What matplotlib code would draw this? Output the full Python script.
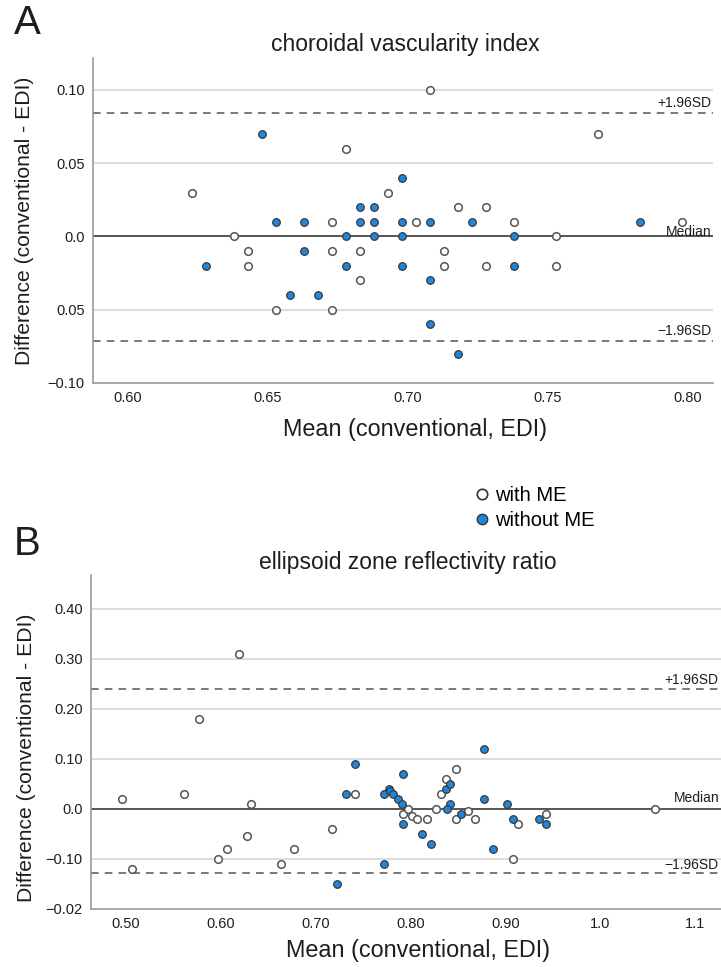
import matplotlib
matplotlib.use("Agg")
import matplotlib.pyplot as plt
from matplotlib.lines import Line2D

plt.rcParams['font.family'] = ['Liberation Sans', 'DejaVu Sans']

# ---------------- Panel A data: choroidal vascularity index ----------------
a_with_x = [0.623, 0.678, 0.693, 0.673, 0.703, 0.638, 0.643, 0.673, 0.683, 0.643,
            0.683, 0.653, 0.673, 0.708, 0.768, 0.718, 0.728, 0.738, 0.798, 0.753,
            0.713, 0.713, 0.728, 0.753]
a_with_y = [0.03, 0.06, 0.03, 0.01, 0.01, 0.0, -0.01, -0.01, -0.01, -0.02,
            -0.03, -0.05, -0.05, 0.10, 0.07, 0.02, 0.02, 0.01, 0.01, 0.0,
            -0.01, -0.02, -0.02, -0.02]
a_wo_x = [0.648, 0.698, 0.683, 0.688, 0.653, 0.663, 0.683, 0.688, 0.698, 0.678,
          0.688, 0.698, 0.663, 0.628, 0.678, 0.698, 0.658, 0.668, 0.708, 0.723,
          0.783, 0.738, 0.738, 0.708, 0.708, 0.718]
a_wo_y = [0.07, 0.04, 0.02, 0.02, 0.01, 0.01, 0.01, 0.01, 0.01, 0.0,
          0.0, 0.0, -0.01, -0.02, -0.02, -0.02, -0.04, -0.04, 0.01, 0.01,
          0.01, 0.0, -0.02, -0.03, -0.06, -0.08]
a_median, a_upper, a_lower = 0.0, 0.084, -0.071
a_xticks = [0.60, 0.65, 0.70, 0.75, 0.80]
a_xticklabels = ['0.60', '0.65', '0.70', '0.75', '0.80']
a_yticks = [-0.10, -0.05, 0.0, 0.05, 0.10]
a_yticklabels = ['\u22120.10', '0.05', '0.0', '0.05', '0.10']

# ---------------- Panel B data: ellipsoid zone reflectivity ratio ----------------
b_with_x = [0.496, 0.506, 0.561, 0.577, 0.597, 0.607, 0.619, 0.628, 0.632, 0.663,
            0.677, 0.717, 0.742, 0.792, 0.797, 0.802, 0.807, 0.817, 0.827, 0.832,
            0.837, 0.848, 0.848, 0.861, 0.868, 0.913, 0.908, 0.943, 1.058]
b_with_y = [0.02, -0.12, 0.03, 0.18, -0.10, -0.08, 0.31, -0.055, 0.01, -0.11,
            -0.08, -0.04, 0.03, -0.01, 0.0, -0.015, -0.02, -0.02, 0.0, 0.03,
            0.06, 0.08, -0.02, -0.005, -0.02, -0.03, -0.10, -0.01, 0.0]
b_wo_x = [0.722, 0.732, 0.742, 0.772, 0.772, 0.777, 0.778, 0.782, 0.787, 0.791,
          0.792, 0.792, 0.812, 0.822, 0.837, 0.842, 0.842, 0.839, 0.853, 0.877,
          0.877, 0.887, 0.902, 0.908, 0.936, 0.943]
b_wo_y = [-0.15, 0.03, 0.09, 0.03, -0.11, 0.04, 0.035, 0.03, 0.02, 0.01,
          0.07, -0.03, -0.05, -0.07, 0.04, 0.05, 0.01, 0.0, -0.01, 0.12,
          0.02, -0.08, 0.01, -0.02, -0.02, -0.03]
b_median, b_upper, b_lower = 0.0, 0.240, -0.129
b_xticks = [0.5, 0.6, 0.7, 0.8, 0.9, 1.0, 1.1]
b_xticklabels = ['0.50', '0.60', '0.70', '0.80', '0.90', '1.0', '1.1']
b_yticks = [-0.2, -0.1, 0.0, 0.1, 0.2, 0.3, 0.4]
b_yticklabels = ['\u22120.02', '\u22120.10', '0.0', '0.10', '0.20', '0.30', '0.40']

BLUE = '#1f86dc'
EDGE = '#3a3a3a'
OPEN_EDGE = '#555555'
GRID = '#d6d6d6'
TXT = '#1e1e1e'

W, H = 721, 967
fig = plt.figure(figsize=(W / 100, H / 100), dpi=100)


def px_axes(left, top, right, bottom):
    return fig.add_axes([left / W, 1 - bottom / H, (right - left) / W, (bottom - top) / H])


def style(ax, xlim, ylim, xticks, xtl, yticks, ytl, median, upper, lower, grid_vals):
    ax.set_xlim(*xlim)
    ax.set_ylim(*ylim)
    for s in ['top', 'right']:
        ax.spines[s].set_visible(False)
    for s in ['left', 'bottom']:
        ax.spines[s].set_color('#9a9a9a')
        ax.spines[s].set_linewidth(1.2)
    ax.set_xticks(xticks)
    ax.set_xticklabels(xtl, fontsize=10.5, color=TXT)
    ax.set_yticks(yticks)
    ax.set_yticklabels(ytl, fontsize=10.5, color=TXT)
    ax.tick_params(length=0, pad=6)
    for g in grid_vals:
        ax.axhline(g, color=GRID, lw=1.2, zorder=0)
    ax.axhline(median, color='#555555', lw=1.4, zorder=1)
    ax.axhline(upper, color='#555555', lw=1.1, ls=(0, (5, 4)), zorder=1)
    ax.axhline(lower, color='#555555', lw=1.1, ls=(0, (5, 4)), zorder=1)


def draw_points(ax, wx, wy, ox, oy):
    ax.scatter(wx, wy, s=30, facecolor='white', edgecolor=OPEN_EDGE, linewidth=1.1, zorder=3)
    ax.scatter(ox, oy, s=30, facecolor=BLUE, edgecolor=EDGE, linewidth=0.9, zorder=4)


# ---------- Panel A ----------
axA = px_axes(93, 58, 713, 383)
style(axA, (0.5877, 0.8091), (-0.10, 0.1218), a_xticks, a_xticklabels,
      a_yticks, a_yticklabels, a_median, a_upper, a_lower, [0.10, 0.05, -0.05])
draw_points(axA, a_with_x, a_with_y, a_wo_x, a_wo_y)
tA = axA.get_yaxis_transform()
axA.text(0.998, a_upper + 0.002, '+1.96SD', transform=tA, ha='right', va='bottom', fontsize=10, color=TXT)
axA.text(0.998, a_median - 0.0015, 'Median', transform=tA, ha='right', va='bottom', fontsize=10, color=TXT)
axA.text(0.998, a_lower + 0.002, '\u22121.96SD', transform=tA, ha='right', va='bottom', fontsize=10, color=TXT)

# ---------- Panel B ----------
axB = px_axes(91, 575, 721, 909)
style(axB, (0.4631, 1.1274), (-0.20, 0.467), b_xticks, b_xticklabels,
      b_yticks, b_yticklabels, b_median, b_upper, b_lower, [0.4, 0.3, 0.2, 0.1, -0.1])
draw_points(axB, b_with_x, b_with_y, b_wo_x, b_wo_y)
tB = axB.get_yaxis_transform()
axB.text(0.996, b_upper + 0.003, '+1.96SD', transform=tB, ha='right', va='bottom', fontsize=10, color=TXT)
axB.text(0.997, b_median + 0.008, 'Median', transform=tB, ha='right', va='bottom', fontsize=10, color=TXT)
axB.text(0.996, b_lower + 0.003, '\u22121.96SD', transform=tB, ha='right', va='bottom', fontsize=10, color=TXT)

# ---------- Titles, labels ----------
fig.text(27 / W, 1 - 23 / H, 'A', fontsize=29, ha='center', va='center', color=TXT)
fig.text(27 / W, 1 - 544 / H, 'B', fontsize=29, ha='center', va='center', color=TXT)
fig.text(405 / W, 1 - 44 / H, 'choroidal vascularity index', fontsize=16.5, ha='center', va='center', color=TXT)
fig.text(408 / W, 1 - 562 / H, 'ellipsoid zone reflectivity ratio', fontsize=16.5, ha='center', va='center', color=TXT)
fig.text(415 / W, 1 - 430 / H, 'Mean (conventional, EDI)', fontsize=16.8, ha='center', va='center', color=TXT)
fig.text(418 / W, 1 - 951 / H, 'Mean (conventional, EDI)', fontsize=16.8, ha='center', va='center', color=TXT)
fig.text(25 / W, 1 - 221 / H, 'Difference (conventional - EDI)', fontsize=15.2, rotation=90,
         ha='center', va='center', color=TXT)
fig.text(27 / W, 1 - 758 / H, 'Difference (conventional - EDI)', fontsize=15.2, rotation=90,
         ha='center', va='center', color=TXT)

# ---------- Legend ----------
handles = [
    Line2D([], [], marker='o', ls='none', markersize=7.5, markerfacecolor='white',
           markeredgecolor='#333333', markeredgewidth=1.2, label='with ME'),
    Line2D([], [], marker='o', ls='none', markersize=7.5, markerfacecolor=BLUE,
           markeredgecolor='#333333', markeredgewidth=1.0, label='without ME'),
]
fig.legend(handles=handles, loc='center left', bbox_to_anchor=(472 / W, 1 - 508 / H),
           frameon=False, fontsize=14.5, handletextpad=0.15, labelspacing=0.3,
           handlelength=1.0, borderpad=0, borderaxespad=0)

fig.savefig('out.png', dpi=100)
